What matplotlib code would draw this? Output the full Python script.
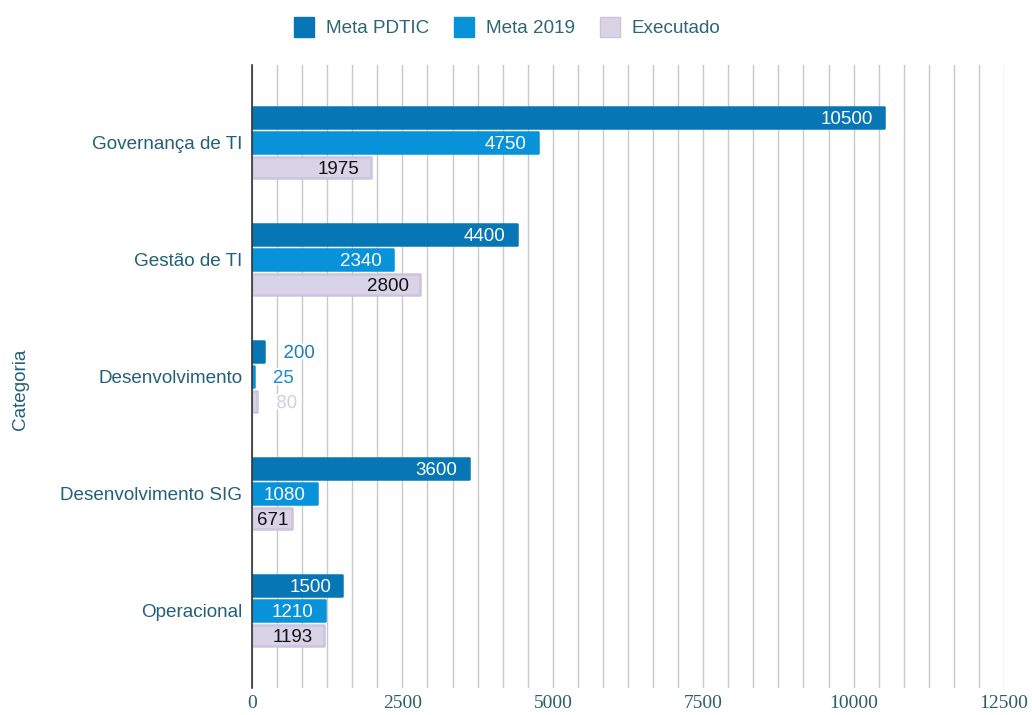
import matplotlib
matplotlib.use("Agg")
import matplotlib.pyplot as plt
import numpy as np
import matplotlib.patheffects as pe
from matplotlib.lines import Line2D
from matplotlib.ticker import MultipleLocator

categories = ["Governança de TI", "Gestão de TI", "Desenvolvimento", "Desenvolvimento SIG", "Operacional"]
meta_pdtic = [10500, 4400, 200, 3600, 1500]
meta_2019 = [4750, 2340, 25, 1080, 1210]
executado = [1975, 2800, 80, 671, 1193]
series_names = ["Meta PDTIC", "Meta 2019", "Executado"]
xticks = [0, 2500, 5000, 7500, 10000, 12500]

colors = ["#0677b4", "#0892da", "#d9d3e8"]
edge_colors = ["#0677b4", "#0892da", "#cbc4dc"]
text_in = ["white", "white", "#111111"]
text_out = ["#1a7db5", "#1a8fd0", "#d4cde6"]
label_color = "#22607a"
SANS = ["Liberation Sans", "DejaVu Sans"]

fig = plt.figure(figsize=(10.32, 7.15), dpi=100)
ax = fig.add_axes([0.2442, 0.0378, 0.7287, 0.8713])

y = np.arange(len(categories))
step = 0.214
h = 0.18
px_per_unit = 752 / 12500
data = [meta_pdtic, meta_2019, executado]
for i, vals in enumerate(data):
    pos = y + (i - 1) * step
    bars = ax.barh(pos, vals, height=h, color=colors[i], edgecolor=edge_colors[i],
                   linewidth=1.8, joinstyle="round", zorder=3)
    for b, v, p in zip(bars, vals, pos):
        width_px = v * px_per_unit
        if width_px >= 55:
            ax.annotate(str(v), xy=(v, p), xytext=(-8, 0), textcoords="offset points",
                        ha="right", va="center_baseline", fontsize=13.5, color=text_in[i],
                        family=SANS, zorder=4)
        elif width_px >= 25:
            ax.annotate(str(v), xy=(v / 2, p), xytext=(0, 0), textcoords="offset points",
                        ha="center", va="center_baseline", fontsize=13.5, color=text_in[i],
                        family=SANS, zorder=4)
        else:
            ax.annotate(str(v), xy=(v, p), xytext=(14, 0), textcoords="offset points",
                        ha="left", va="center_baseline", fontsize=13.5, color=text_out[i],
                        family=SANS, zorder=4,
                        path_effects=[pe.withStroke(linewidth=3, foreground="white")])

ax.set_xlim(0, 12500)
ax.set_ylim(len(categories) - 1 + 0.66, -0.66)
ax.set_yticks(y)
ax.set_yticklabels(categories, fontsize=13.6, color=label_color, family=SANS)
ax.set_xticks(xticks)
ax.set_xticklabels([str(t) for t in xticks], fontsize=14, color="#2c5d6c", family=["Liberation Serif"])
ax.xaxis.set_minor_locator(MultipleLocator(2500 / 6))
ax.grid(axis="x", which="both", color="#c8c8c8", linewidth=1.0, zorder=0)
ax.tick_params(axis="both", which="both", length=0)
ax.tick_params(axis="x", pad=5)
ax.tick_params(axis="y", pad=7)
for s in ["top", "right", "bottom"]:
    ax.spines[s].set_visible(False)
ax.spines["left"].set_color("#333333")
ax.spines["left"].set_linewidth(1.2)
ax.spines["left"].set_zorder(5)

fig.text(0.0195, 0.455, "Categoria", rotation=90, ha="center", va="center",
         fontsize=13.6, color=label_color, family=SANS)

handles = [Line2D([], [], marker="s", linestyle="none", markersize=14,
                  markerfacecolor=colors[i], markeredgecolor=edge_colors[i]) for i in range(3)]
leg = fig.legend(handles, series_names, loc="center", bbox_to_anchor=(0.492, 0.960), ncol=3,
                 frameon=False, handlelength=1.0, handletextpad=0.65, columnspacing=1.35,
                 prop={"family": SANS, "size": 13.6})
for t in leg.get_texts():
    t.set_color("#2e6576")

fig.savefig("out.png", dpi=100)
